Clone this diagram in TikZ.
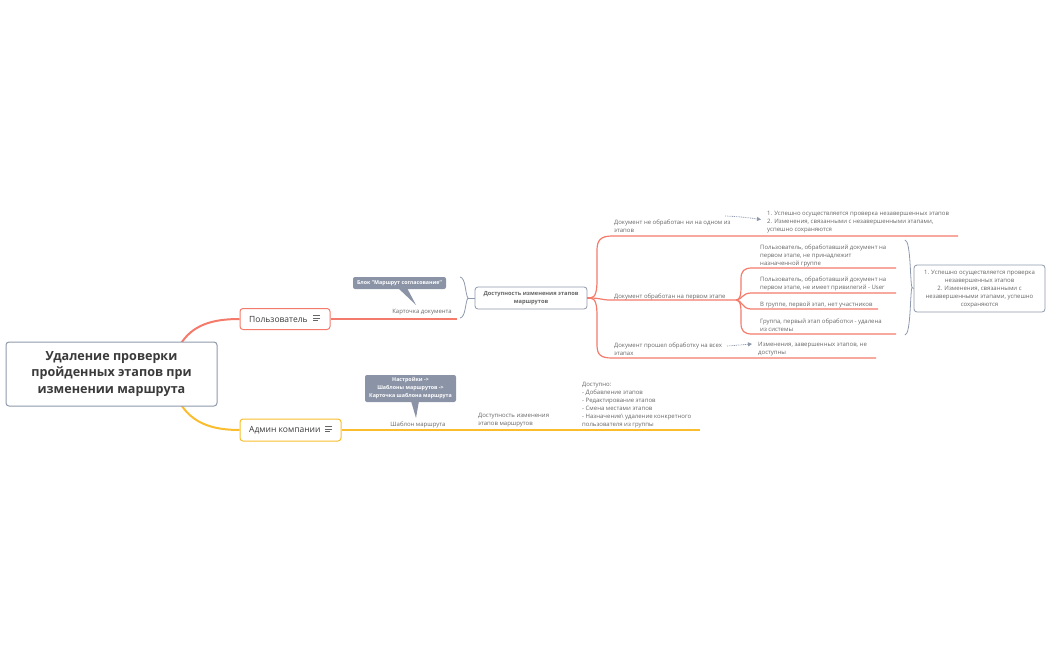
\documentclass[tikz,border=0pt]{standalone}
\usepackage{fontspec}
\setmainfont{Open Sans}
\usetikzlibrary{arrows.meta}
\definecolor{redl}{HTML}{F47B6B}
\definecolor{yel}{HTML}{F9BD2E}
\definecolor{bord}{HTML}{8F99AC}
\definecolor{callc}{HTML}{8B94A7}
\definecolor{txt}{HTML}{666666}
\definecolor{dark}{HTML}{3A3A3A}
\begin{document}
\begin{tikzpicture}[x=1pt,y=-1pt,
  sm/.style={font=\fontsize{6}{8}\selectfont, text=txt, inner sep=0pt, align=left, anchor=north west, yshift=-1.5pt},
  smc/.style={font=\fontsize{6}{8}\selectfont, text=txt, inner sep=0pt, align=center},
  rl/.style={draw=redl, line width=1.2pt},
  yl/.style={draw=yel, line width=1.2pt},
  brc/.style={draw=bord, line width=0.8pt},
  dotarrow/.style={draw=bord, line width=0.8pt, dash pattern=on 0.9pt off 0.9pt, -{Triangle[length=4pt,width=4pt]}},
  callout/.style={fill=callc, rounded corners=2pt, text=white, inner sep=0pt, align=center,
     font=\bfseries\fontsize{5.3}{8}\selectfont},
  icon/.style={draw=txt, line width=0.8pt},
  topic/.style={line width=1pt, rounded corners=3pt, fill=white, inner sep=0pt}
]
\useasboundingbox (0,0) rectangle (1051,650);

% ---- main branch topics ----
\node[topic, draw=redl, minimum width=90pt, minimum height=21pt] (user) at (285,319) {};
\node[anchor=west, inner sep=0pt, text=dark, font=\fontsize{8.5}{10}\selectfont] (userlbl) at (249,319.5) {Пользователь};
\draw[icon] (313,315.7) -- (319.5,315.7) (313,318) -- (319.5,318) (313,320.3) -- (317.5,320.3);

\node[topic, draw=yel, minimum width=101pt, minimum height=22pt] (admin) at (290.5,430) {};
\node[anchor=west, inner sep=0pt, text=dark, font=\fontsize{8.5}{10}\selectfont] (adminlbl) at (249,430.5) {Админ компании};
\draw[icon] (325,426.7) -- (331.5,426.7) (325,429) -- (331.5,429) (325,431.3) -- (329.5,431.3);

\coordinate (rootR) at (180,345);
\coordinate (rootY) at (180,403);
\draw[draw=redl, line width=2pt] (rootR) .. controls (192,325) and (212,319) .. (user.west);
\draw[draw=yel, line width=2pt] (rootY) .. controls (192,423) and (212,430) .. (admin.west);

% ---- root ----
\node[topic, draw=bord, minimum width=211pt, minimum height=64pt, text=dark, align=center,
      font=\bfseries\fontsize{12.6}{16.3}\selectfont] (root) at (111.5,374)
      {Удаление проверки\\пройденных этапов при\\изменении маршрута};

% ---- user branch ----
\coordinate (userend) at (457,319);
\draw[rl] (user.east) -- (userend);
\node[sm, anchor=north east] (card) at (452,308) {Карточка документа};
\node[callout, minimum width=93pt, minimum height=12pt] (call1) at (399.5,283) {Блок "Маршрут согласование"};
\fill[callc] (398,288) -- (407,288) -- (416,305) -- cycle;

\coordinate (br1t) at (460,277);
\coordinate (br1m) at (468,298);
\coordinate (br1b) at (460,318);
\draw[brc] (br1t) .. controls (466,278) and (465,294) .. (br1m) .. controls (465,302) and (466,317) .. (br1b);

\node[topic, draw=bord, line width=0.8pt, minimum width=112pt, minimum height=22pt, text=txt, align=center,
      font=\bfseries\fontsize{5.7}{8}\selectfont] (dtn) at (531,298) {Доступность изменения этапов\\маршрутов};
\draw[brc] (br1m) -- (dtn.west);

% ---- three sub-branches ----
\coordinate (J) at (590,298);
\coordinate (b1e) at (958,236);
\coordinate (b2e) at (736,300);
\coordinate (b3e) at (876,358);
\draw[rl] (dtn.east) -- (J);
\draw[rl] (J) .. controls (596,298) and (597,290) .. (597,280) -- (597,250) .. controls (597,240) and (601,236) .. (612,236) -- (b1e);
\draw[rl] (J) .. controls (600,298) and (602,300) .. (610,300) -- (b2e);
\draw[rl] (J) .. controls (596,298) and (597,306) .. (597,316) -- (597,345) .. controls (597,355) and (601,358) .. (612,358) -- (b3e);

\node[sm] (t1) at (614,218.5) {Документ не обработан ни на одном из\\этапов};
\node[sm] (t1r) at (767,210) {1. Успешно осуществляется проверка незавершенных этапов\\2. Изменения, связанными с незавершенными этапами,\\успешно сохраняются};
\coordinate (a1s) at (725,216);
\coordinate (a1e) at (761,219.5);
\draw[dotarrow] (a1s) .. controls (740,216.5) and (750,218) .. (a1e);

\node[sm] (t2) at (614,292) {Документ обработан на первом этапе};

\node[sm] (t3) at (614,341) {Документ прошел обработку на всех\\этапах};
\node[sm] (t3r) at (758,341) {Изменения, завершенных этапов, не\\доступны};
\coordinate (a3s) at (727,346);
\coordinate (a3e) at (752,344);
\draw[dotarrow] (a3s) -- (a3e);

% ---- sub-sub-branches ----
\coordinate (s1e) at (896,268);
\coordinate (s2e) at (896,293);
\coordinate (s3e) at (878,309);
\coordinate (s4e) at (896,334);
\draw[rl] (b2e) .. controls (740,300) and (741,295) .. (741,288) -- (741,279) .. controls (741,271) and (744,268) .. (752,268) -- (s1e);
\draw[rl] (b2e) .. controls (742,300) and (742,293) .. (751,293) -- (s2e);
\draw[rl] (b2e) .. controls (742,300) and (742,309) .. (751,309) -- (s3e);
\draw[rl] (b2e) .. controls (740,300) and (741,305) .. (741,312) -- (741,323) .. controls (741,331) and (744,334) .. (752,334) -- (s4e);

\node[sm] (u1) at (760,243) {Пользователь, обработавший документ на\\первом этапе, не принадлежит\\назначенной группе};
\node[sm] (u2) at (760,275) {Пользователь, обработавший документ на\\первом этапе, не имеет привилегий - User};
\node[sm] (u3) at (760,300) {В группе, первой этап, нет участников};
\node[sm] (u4) at (760,317) {Группа, первый этап обработки - удалена\\из системы};

\coordinate (br2t) at (905,240);
\coordinate (br2m) at (912,287.5);
\coordinate (br2b) at (905,335);
\draw[brc] (br2t) .. controls (911,241) and (910,283) .. (br2m) .. controls (910,292) and (911,334) .. (br2b);
\node[topic, draw=bord, line width=0.8pt, minimum width=131pt, minimum height=47pt] (sumbox) at (979.5,288.5) {};
\node[smc] (sumtxt) at (979.5,289.5) {1. Успешно осуществляется проверка\\незавершенных этапов\\2. Изменения, связанными с\\незавершенными этапами, успешно\\сохраняются};
\draw[brc] (br2m) -- (sumbox.west);

% ---- admin branch ----
\coordinate (adminend) at (700,430);
\draw[yl] (admin.east) -- (adminend);
\node[sm, anchor=north] (tmpl) at (418,420) {Шаблон маршрута};
\node[callout, minimum width=91pt, minimum height=27pt] (call2) at (410.5,388.5) {Настройки ->\\Шаблоны маршрутов ->\\Карточка шаблона маршрута};
\fill[callc] (411,401) -- (419,401) -- (416,418) -- cycle;
\node[sm] (dost) at (478,412) {Доступность изменения\\этапов маршрутов};
\node[sm] (dlist) at (582,381) {Доступно:\\- Добавление этапов\\- Редактирование этапов\\- Смена местами этапов\\- Назначение\textbackslash{} удаление конкретного\\пользователя из группы};

\end{tikzpicture}
\end{document}
